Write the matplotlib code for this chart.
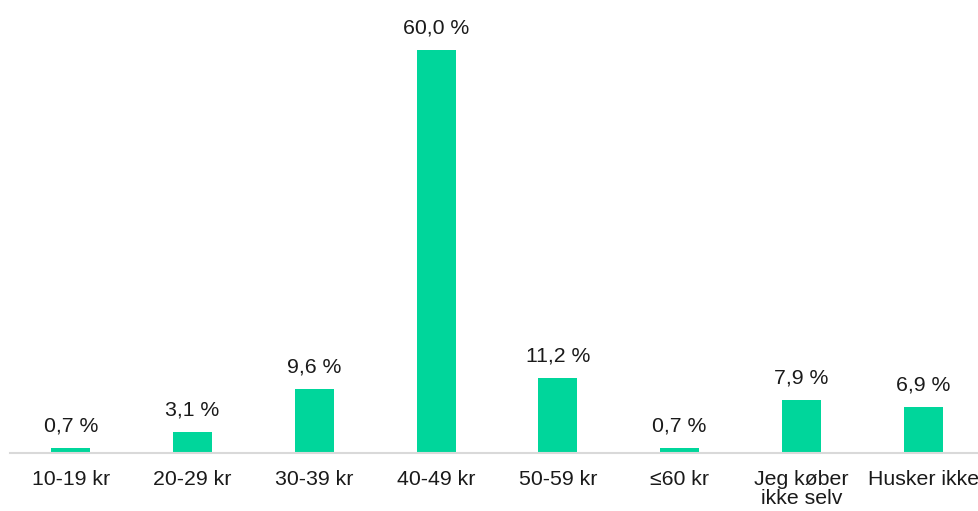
import matplotlib.pyplot as plt

plt.rcParams["font.family"] = ["Liberation Sans", "DejaVu Sans"]

# Data
categories = ["10-19 kr", "20-29 kr", "30-39 kr", "40-49 kr", "50-59 kr",
              "≤60 kr", "Jeg køber\nikke selv", "Husker ikke"]
values = [0.7, 3.1, 9.6, 60.0, 11.2, 0.7, 7.9, 6.9]
labels = ["0,7 %", "3,1 %", "9,6 %", "60,0 %", "11,2 %", "0,7 %", "7,9 %", "6,9 %"]

W, H = 979, 511
fig = plt.figure(figsize=(W / 100, H / 100), dpi=100)

# axes placement in pixels (baseline at y=453, 60 % at y=50)
px_per_unit = (453 - 50) / 60.0
ytop = 65
top_px = 453 - ytop * px_per_unit
ax = fig.add_axes([10 / W, (H - 453) / H, (W - 10) / W, (453 - top_px) / H])

x = range(len(categories))
ax.bar(x, values, width=0.32, color="#00D69B", zorder=2)

for xi, v, lab in zip(x, values, labels):
    ax.annotate(lab, (xi, v), xytext=(0, 9), textcoords="offset points",
                ha="center", va="bottom", fontsize=15.3, color="#1a1a1a")

ax.set_xlim(-0.5, 7.5 - 5 / 122)
ax.set_ylim(0, ytop)
ax.set_xticks(list(x))
ax.set_xticklabels(categories, fontsize=15.3, color="#1a1a1a", linespacing=1.02)
ax.tick_params(axis="x", length=0, pad=12)
ax.set_yticks([])

for s in ["top", "right", "left"]:
    ax.spines[s].set_visible(False)
ax.spines["bottom"].set_color("#d9d9d9")
ax.spines["bottom"].set_linewidth(1.5)

fig.savefig("out.png", dpi=100)
plt.close()
